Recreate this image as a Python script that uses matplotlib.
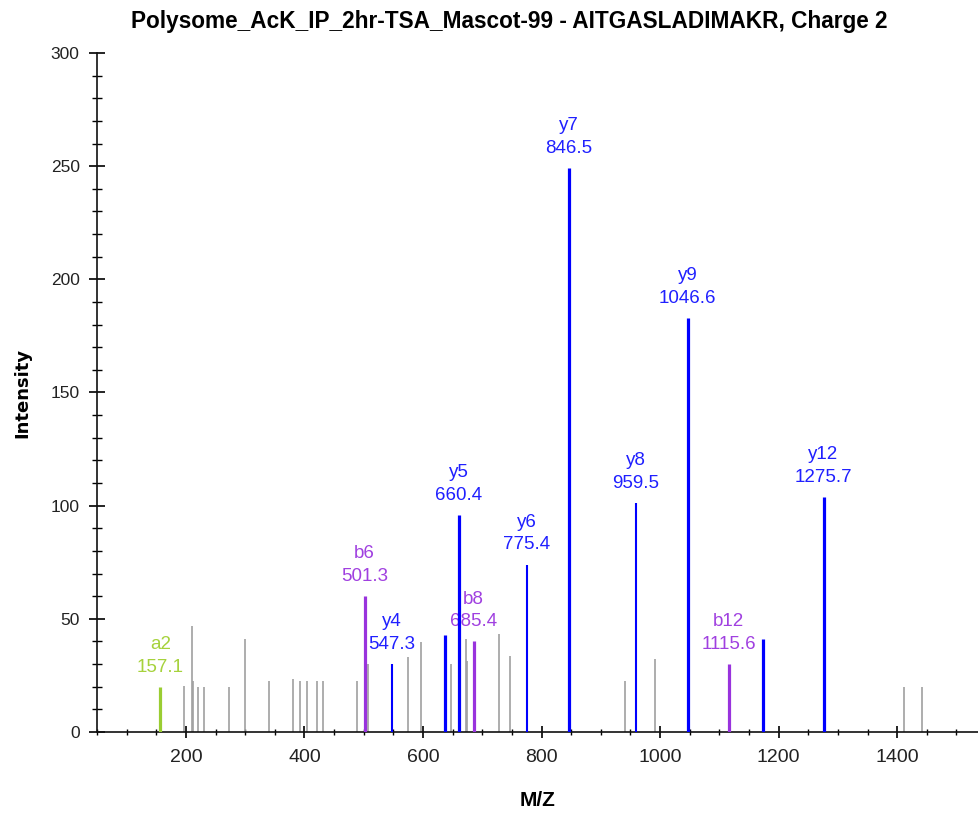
import matplotlib
matplotlib.use("Agg")
import matplotlib.pyplot as plt
from matplotlib.ticker import MultipleLocator

# Annotated fragment ions: label, m/z, intensity, ion type, thick stick or not
ion_labels = ["a2", "b6", "y4", "y5", "b8", "y6", "y7", "y8", "y9", "b12", "y12"]
ion_mz = [157.1, 501.3, 547.3, 660.4, 685.4, 775.4, 846.5, 959.5, 1046.6, 1115.6, 1275.7]
ion_int = [20, 60, 30, 96, 40, 74, 249, 101, 183, 30, 104]
ion_kind = ["a", "b", "y", "y", "b", "y", "y", "y", "y", "b", "y"]
ion_thick = [True, True, False, True, True, False, True, False, True, True, True]

# Matched but unlabeled y ions
extra_y_mz = [637.5, 1173.7]
extra_y_int = [43, 41]

# Unassigned peaks
other_mz = [196, 210, 212.5, 221, 230.5, 272, 299, 341, 380, 393, 405, 421, 432,
            488.5, 508, 574.5, 597, 647, 672, 674.5, 728, 747, 941.5, 991.5,
            1411, 1442]
other_int = [20.4, 47, 22.7, 20, 20, 20, 41, 22.7, 23.4, 22.7, 22.7, 22.7, 22.7,
             22.7, 30, 33, 39.6, 30, 41, 31.5, 43.3, 33.7, 22.7, 32.2,
             19.7, 19.7]

colors = {"a": "#9acd32", "b": "#9933dd", "y": "#0000ff"}
label_colors = {"a": "#a6d23c", "b": "#a040e0", "y": "#2020ff"}

plt.rcParams["font.family"] = ["Liberation Sans", "DejaVu Sans"]

fig = plt.figure(figsize=(9.79, 8.17), dpi=100)
ax = fig.add_axes([97 / 979, 85 / 817, 1 - 97 / 979, (732 - 53) / 817])

ax.vlines(other_mz, 0, other_int, color="#a0a0a0", lw=1.2, zorder=2)
ax.vlines(extra_y_mz, 0, extra_y_int, color=colors["y"], lw=2.3, zorder=3)

for lab, mz, h, k, thick in zip(ion_labels, ion_mz, ion_int, ion_kind, ion_thick):
    ax.vlines(mz, 0, h, color=colors[k], lw=2.3 if thick else 1.5, zorder=3)
    ax.annotate(f"{lab}\n{mz:.1f}", xy=(mz, h), xytext=(0, 8),
                textcoords="offset points", ha="center", va="bottom",
                fontsize=13.5, color=label_colors[k], linespacing=1.45,
                family="Liberation Sans", zorder=1)

ax.set_xlim(50, 1538)
ax.set_ylim(0, 300)

ax.spines["top"].set_visible(False)
ax.spines["right"].set_visible(False)
for s in ("left", "bottom"):
    ax.spines[s].set_linewidth(1.2)
    ax.spines[s].set_color("#111111")

ax.xaxis.set_major_locator(MultipleLocator(200))
ax.xaxis.set_minor_locator(MultipleLocator(50))
ax.yaxis.set_major_locator(MultipleLocator(50))
ax.yaxis.set_minor_locator(MultipleLocator(10))

ax.tick_params(axis="x", which="major", direction="inout", length=8, width=1.2,
               pad=8, labelsize=14, labelcolor="#222222")
ax.tick_params(axis="x", which="minor", direction="inout", length=5, width=1.0)
ax.tick_params(axis="y", which="major", direction="inout", length=11, width=1.2,
               pad=7, labelsize=12.5, labelcolor="#222222")
ax.tick_params(axis="y", which="minor", direction="inout", length=6.5, width=1.0)
for t in ax.get_xticklabels() + ax.get_yticklabels():
    t.set_family("Liberation Sans")

ax.set_xlabel("M/Z", fontsize=15, fontweight="bold", family="Liberation Sans",
              labelpad=18)
ax.set_ylabel("Intensity", fontsize=13, fontweight="bold", family="DejaVu Sans",
              labelpad=14)

fig.suptitle("Polysome_AcK_IP_2hr-TSA_Mascot-99 - AITGASLADIMAKR, Charge 2",
             x=0.52, y=0.988, fontsize=16.3, fontweight="bold",
             family="Liberation Sans")

fig.savefig("out.png", dpi=100)
